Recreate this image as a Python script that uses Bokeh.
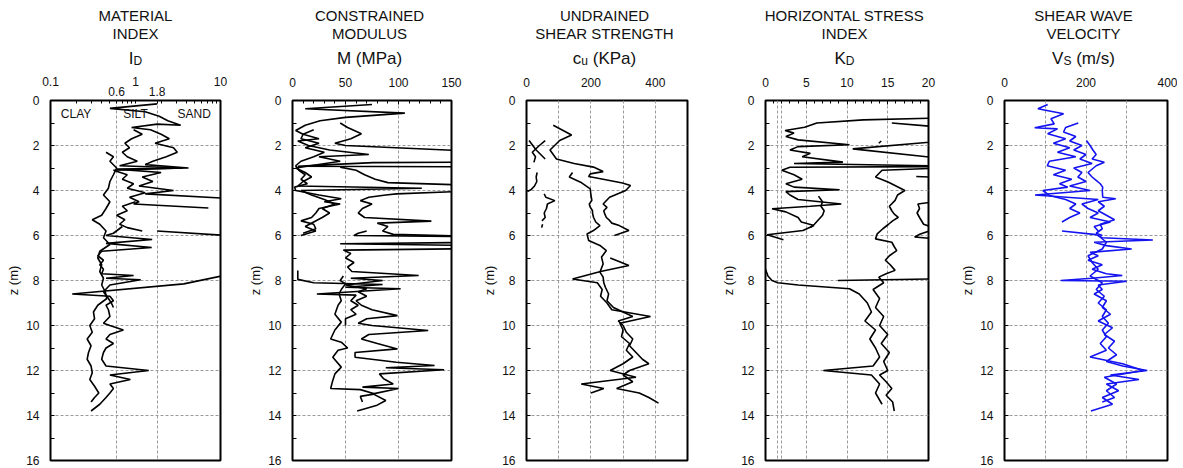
import math
from bokeh.plotting import figure
from bokeh.models import Range1d, FixedTicker, Label, LogAxis, CustomJSTickFormatter
from bokeh.layouts import row, column
from bokeh.embed import file_html
from bokeh.resources import INLINE
from bokeh.core.properties import value

FONT = "Liberation Sans"
TXT = "#111111"
GRID = "#9a9a9a"

# ---------------- DATA ----------------
z_ticks = [0, 2, 4, 6, 8, 10, 12, 14, 16]
z_minor = [1, 3, 5, 7, 9, 11, 13, 15]
z_grid = [2, 4, 6, 8, 10, 12, 14]

titles = [("MATERIAL", "INDEX"), ("CONSTRAINED", "MODULUS"), ("UNDRAINED", "SHEAR STRENGTH"),
          ("HORIZONTAL STRESS", "INDEX"), ("SHEAR WAVE", "VELOCITY")]
symbols = [[("I", False), ("D", True)],
           [("M (MPa)", False)],
           [("c", False), ("u", True), (" (KPa)", False)],
           [("K", False), ("D", True)],
           [("V", False), ("S", True), (" (m/s)", False)]]
soil_labels = ["CLAY", "SILT", "SAND"]
soil_x = [0.2, 1.0, 4.9]
id_extra_ticks = [0.6, 1.8]

# Panel 1: material index ID (log)
id_z1 = [0.15,0.35,0.5,0.7,0.9,1.1,1.05,1.2,1.3,1.5,1.7,1.9,2.1,2.3,2.5,2.7,2.85,3.0,3.05,3.2,3.4,3.6,3.8,4.0,4.15,4.35]
id_v1 = [1.8,0.5,1.3,1.9,2.4,3.4,1.8,0.9,1.5,2.0,2.5,1.7,2.8,3.1,2.3,1.6,1.3,4.2,0.6,2.0,1.2,1.6,1.1,2.8,1.3,12]
id_z2 = [1.3,1.5,1.7,1.9,2.1,2.3,2.5,2.7,2.9,3.0,3.1,3.3,3.5,3.7,3.9,4.1,4.3,4.5,4.6,4.78]
id_v2 = [0.95,1.2,0.9,0.75,0.85,0.7,0.8,1.05,0.65,3.6,0.55,0.8,0.7,0.95,0.8,1.3,0.85,1.1,0.95,7.2]
id_z3 = [2.3,2.5,2.7,3.0,3.3,3.6,3.9,4.2,4.5,4.8,5.1,5.3,5.5,5.8,6.1,6.4,6.7,7.0,7.3,7.6,7.9,8.2,8.5,8.8,9.1,9.4,9.7,10.0,10.3,10.6,10.9,11.2,11.5,11.8,12.1,12.4,12.7,13.0,13.2,13.4]
id_v3 = [0.45,0.55,0.5,0.6,0.55,0.5,0.48,0.42,0.5,0.45,0.4,0.31,0.38,0.45,0.42,0.5,0.38,0.36,0.4,0.38,0.42,0.4,0.44,0.46,0.36,0.32,0.33,0.29,0.31,0.27,0.3,0.28,0.27,0.3,0.31,0.29,0.33,0.37,0.33,0.3]
id_z4 = [4.5,4.7,4.9,5.1,5.3,5.5,5.65,5.8]
id_v4 = [1.0,0.7,0.8,0.6,0.75,0.65,0.8,1.2]
id_z5 = [5.8,6.0,7.75,8.15,8.6,8.7,8.9,9.1,9.3,9.6,9.9,10.0,10.2,10.4,10.6,10.8,11.0,11.2,11.5,11.8,12.0,12.2,12.4,12.6,12.8,13.0,13.2,13.5,13.8]
id_v5 = [1.8,12,12,3.7,0.18,0.5,0.55,0.45,0.48,0.5,0.42,0.5,0.72,0.5,0.45,0.55,0.45,0.42,0.4,0.45,1.43,0.5,0.87,0.5,0.55,0.5,0.45,0.38,0.3]
id_z6 = [5.6,5.9,6.0,6.18,6.35,6.53,6.7,6.9,7.1,7.3,7.5,7.7,7.78,7.9,7.97,8.2,8.5,8.8,9.0,9.2]
id_v6 = [0.7,0.55,0.45,1.57,0.45,1.55,0.4,0.36,0.42,0.38,0.42,0.4,0.95,0.45,1.15,0.5,0.42,0.48,0.52,0.55]

# Panel 2: constrained modulus M (MPa)
m_z1 = [0.18,0.37,0.56,0.75,0.9,1.1,1.33,1.5,1.7,1.9,2.1,2.3,2.5,2.7,2.9,3.1,3.3,3.5,3.7,3.85,4.0,4.2,4.37,4.5,4.6,4.8,5.0,5.2,5.35,5.5,5.7,5.9]
m_v1 = [75,12,106,50,26,12,3,10,8,25,12,30,20,8,3,6,12,8,14,2,3,25,46,30,45,25,22,18,8,20,22,10]
m_z2 = [1.0,1.2,1.48,1.7,1.9,2.0,2.27,2.55,2.74,2.76,2.85,2.92,2.95]
m_v2 = [45,52,65,55,40,50,180,180,180,76,35,5,180]
m_z3 = [2.96,3.1,3.3,3.5,3.65,3.78,3.9,4.0,4.15,4.2,4.3,4.45,4.6,4.8,5.0,5.2,5.36,5.45,5.6,5.8,5.95,6.05]
m_v3 = [45,60,68,78,90,180,180,180,98,88,72,64,75,66,62,68,131,80,90,85,95,180]
m_z4 = [1.3,1.5,1.7,1.8,2.0,2.2,2.4,2.5,2.7,3.0,3.2,3.4,3.6,3.8,3.9,4.0,4.2,4.4,4.6,4.8,5.0,5.2,5.4,5.6,5.8,6.0]
m_v4 = [20,10,25,5,15,35,72,25,45,3,12,18,10,5,122,8,18,30,40,28,35,28,20,12,22,8]
m_z6 = [5.8,5.9,6.0,6.05,6.3,6.37,6.45,6.58,6.65,6.8,7.0,7.2,7.4,7.6,7.78,7.9,8.0,8.2,8.37,8.5,8.7,8.9,9.1,9.3,9.56,9.7,9.9,10.0,10.22,10.4,10.6,10.8,11.04,11.2,11.41,11.63,11.78,11.88,11.97,12.15,12.37,12.6,12.74,12.8,13.04,13.33,13.56,13.8]
m_v6 = [70,62,58,180,180,45,180,180,48,55,50,58,52,56,119,55,85,50,70,62,70,60,65,75,99,70,62,75,128,72,65,80,99,59,59,98,134,88,143,82,86,95,66,100,76,88,79,61]
m_z7 = [7.8,8.0,8.15,8.4,8.6,8.9,9.1,9.5,9.85,10.2,10.6,10.74,11.0,11.1,11.41,11.85,12.15,12.44,12.8,12.85,13.04,13.15,13.4]
m_v7 = [48,45,50,46,44,46,43,40,46,40,36,46,52,43,38,46,40,38,36,64,78,64,66]
m_z8 = [7.55,7.95,8.1,8.18,8.3,8.37,8.6,8.65,8.9,9.1,9.3,9.5,9.7,10.0]
m_v8 = [5,5,20,85,50,102,23,60,55,62,55,60,50,50]

# Panel 3: undrained shear strength cu (kPa)
cu_z1 = [1.1,1.53,1.78,2.2,2.6,2.8,2.96,3.16,3.26,3.38,3.5,3.67,3.78,4.0,4.3,4.6,4.75,4.9,5.04,5.2,5.33,5.45,5.56,5.78,6.0]
cu_v1 = [83,140,103,73,93,148,208,238,198,193,238,298,323,308,258,238,250,240,243,248,258,265,288,318,273]
cu_z2 = [3.2,3.4,3.63,3.93,4.2,4.44,4.6,4.74,4.9,5.0,5.19,5.4,5.56,5.78,5.93,6.22,6.44,6.67,6.96,7.26,7.63,7.85,8.1,8.3,8.6,8.9,9.2,9.4,9.6,9.8,10.0,10.3,10.6,10.9,11.2,11.5,11.7,12.0,12.2,12.5,12.8,13.0,13.2,13.45]
cu_v2 = [143,133,168,198,200,203,195,198,205,205,208,215,228,208,188,193,228,248,233,238,228,238,240,245,255,250,270,300,330,285,300,310,330,320,340,360,380,320,300,330,280,350,380,410]
cu_z3 = [7.0,7.33,7.6,7.93,8.1,8.4,8.7,9.0,9.3,9.6,9.9,10.2,10.5,10.8,11.1,11.4,11.7,12.0,12.3,12.6,12.8,13.0]
cu_v3 = [260,318,230,143,220,235,230,250,265,385,290,300,295,320,310,330,300,260,340,170,240,200]
cu_z4 = [1.78,2.2,2.6]
cu_v4 = [8,30,58]
cu_z5 = [1.78,2.0,2.3,2.5,2.75]
cu_v5 = [58,40,18,28,23]
cu_z6 = [3.2,3.4,3.6,3.8,3.95,4.05]
cu_v6 = [33,30,32,25,15,3]
cu_z7 = [4.15,4.3,4.45,4.6,4.8,5.0,5.2,5.35]
cu_v7 = [55,60,88,65,62,55,58,48]
cu_z8 = [5.5,5.65]
cu_v8 = [50,47]

# Panel 4: horizontal stress index KD
kd_z1 = [0.74,0.86,1.0,1.19,1.33,1.45,1.6,1.75,1.97,2.05,2.2,2.35,2.5,2.74,2.8,2.93,2.97,3.1,3.3,3.5,3.7,3.85,3.97,4.05,4.2,4.4,4.6,4.7,4.81,4.95,5.2,5.4,5.56,5.78,5.97,6.19]
kd_v1 = [25,12,6.3,4.8,2.4,3.5,2.5,4.0,10.3,4.0,3.0,5.5,4.5,9.5,3.5,25,3.0,2.0,3.5,4.5,2.5,3.5,9.1,2.5,3.0,4.0,9.3,5.5,0.8,2.5,4.0,4.4,5.95,4.6,0.2,2.2]
kd_z2 = [1.0,1.2]
kd_v2 = [15.5,22]
kd_z3 = [1.7,2.15,2.7]
kd_v3 = [25,10.7,25]
kd_z3b = [1.8,1.9]
kd_v3b = [14.2,13.9]
kd_z4 = [2.96,3.1,3.4,3.63,4.0,4.2,4.44,4.7,4.9,5.05,5.19,5.35,5.5,5.7,5.93,6.15,6.3,6.5,6.67,6.9,7.1,7.3,7.55,7.7,7.85,8.1,8.4,8.8,9.2,9.6,10.0,10.4,10.8,11.2,11.6,12.0,12.2,12.5,12.8,13.1,13.4,13.8]
kd_v4 = [25,14.3,13.5,15.1,17.1,16.2,15.9,15.2,15.5,15.8,16.3,15.6,15.1,14.4,13.7,13.5,15.5,15.8,16.1,15.2,14.7,15.3,15.9,14.8,13.9,14.5,13.2,14.0,13.5,14.5,14.0,15.0,14.2,15.2,14.5,15.0,14.0,14.8,15.5,14.8,15.6,15.8]
kd_z5 = [4.3,4.6,4.8,5.0,5.2,5.5,5.7,5.93,6.07,6.15]
kd_v5 = [25,18.7,18.9,18.6,18.9,19.4,21,19.0,18.3,21]
kd_z6 = [3.38,3.42]
kd_v6 = [18.5,22]
kd_z7 = [4.25,4.5,4.7,4.9,5.1,5.3,5.5,5.65]
kd_v7 = [6.5,7.0,6.8,7.2,7.0,6.5,6.0,5.5]
kd_z8 = [7.5,7.8,8.0,8.1,8.2,8.37,8.6,9.0,9.4,9.8,10.2,10.6,11.0,11.4,11.8,12.0,12.2,12.6,13.0,13.5]
kd_v8 = [0,0.3,0.8,1.5,4,10.3,11.5,12.5,13.0,12.2,13.5,12.8,13.5,14.0,13.2,7.1,13.0,14.0,13.5,14.3]
kd_z9 = [8.0,7.9]
kd_v9 = [8.9,25]

# Panel 5: shear wave velocity Vs (m/s)
vs_z1 = [0.18,0.37,0.59,0.81,1.04,1.21,1.26,1.48,1.7,1.9,2.1,2.3,2.5,2.7,2.9,3.1,3.3,3.5,3.7,3.85,4.0,4.22,4.4,4.6,4.8,5.0,5.2,5.4]
vs_v1 = [106,82,145,114,122,74,130,106,150,120,160,130,175,110,105,150,120,165,135,155,94,110,150,175,160,185,160,141]
vs_z2 = [1.0,1.2,1.4,1.6,1.8,2.0,2.2,2.4,2.6,2.8,3.0,3.2,3.4,3.6,3.8,4.0,4.2,4.4,4.6,4.8,5.0,5.2,5.4,5.6,5.8]
vs_v2 = [181,150,145,175,160,190,170,200,185,215,170,190,180,200,160,210,75,230,190,205,230,210,260,220,230]
vs_z3 = [1.78,2.0,2.2,2.4,2.6,2.74,2.9,3.2,3.4,3.55,3.7,3.85,4.0,4.3,4.37,4.5,4.7,4.9,5.1,5.3,5.5,5.7,5.9,6.0]
vs_v3 = [201,210,217,225,215,245,225,205,215,225,235,241,240,241,273,230,245,230,250,270,235,240,225,240]
vs_z4 = [5.8,5.96,6.1,6.2,6.3,6.45,6.6,6.75,6.9,7.1,7.3,7.5,7.7,7.78,7.9,8.0,8.03,8.2,8.4,8.6,8.9,9.2,9.5,9.8,10.1,10.4,10.7,11.0,11.3,11.6,11.8,12.0,12.2,12.4,12.6,12.9,13.2,13.5,13.8]
vs_v4 = [141,225,240,364,220,250,312,210,230,205,240,215,250,289,215,138,300,230,240,220,250,240,260,230,265,245,270,255,275,250,290,350,260,330,250,280,240,265,212]
vs_z5 = [6.0,6.3,6.6,6.9,7.2,7.5,7.8,8.1,8.4,8.7,9.0,9.3,9.6,9.9,10.2,10.5,10.8,11.1,11.4,11.7,12.0,12.3,12.6,12.9,13.2,13.4]
vs_v5 = [230,250,240,205,215,230,210,240,225,245,230,250,240,255,240,250,235,250,210,290,340,245,275,250,270,240]

# ---------------- LAYOUT / HELPERS ----------------
CW = {"I": .278, "D": .722, "M": .833, " ": .278, "(": .333, ")": .333, "P": .667, "a": .556,
      "c": .5, "u": .556, "K": .667, "V": .667, "S": .667, "m": .833, "/": .278, "s": .5}


def tw(s, size):
    return sum(CW.get(ch, .6) for ch in s) * size


HEAD_H = 68          # header strip height (titles)
TOP_B = 32           # space above frame for tick labels
FH = 360             # frame height
BOT_B = 8
LB = [50, 42, 42, 42, 42]        # left borders
FW = [170, 164, 166, 168, 168]   # frame widths
RB = [25, 28, 31, 29, 10]        # right borders
FIG_W = [a + b + c for a, b, c in zip(LB, FW, RB)]
TOTAL_W = sum(FIG_W)

starts = []
acc = 0
for w in FIG_W:
    starts.append(acc)
    acc += w
centers = [s + l + f / 2 for s, l, f in zip(starts, LB, FW)]

TITLE_SIZE = 15
SYM_SIZE = 17
SUB_SIZE = 12
BASE_SHIFT = -5.5    # compensates the renderer's baseline placement

# header figure: its data coordinates equal page pixels
head = figure(width=TOTAL_W, height=HEAD_H, x_range=Range1d(0, TOTAL_W), y_range=Range1d(HEAD_H, 0),
              x_axis_type=None, y_axis_type=None, output_backend="svg", toolbar_location=None,
              title=None, min_border=0, min_border_left=0, min_border_right=0,
              min_border_top=0, min_border_bottom=0)
head.outline_line_color = None
head.grid.visible = False
head.background_fill_color = "white"
head.border_fill_color = "white"

t1x, t1y, t1t = [], [], []
for (a, b), cx in zip(titles, centers):
    t1x += [cx, cx]
    t1y += [20.7 + BASE_SHIFT, 38.3 + BASE_SHIFT]
    t1t += [a, b]
head.text(x=t1x, y=t1y, text=t1t, text_font=value(FONT), text_font_size=value(f"{TITLE_SIZE}px"),
          text_color=TXT, text_align="center", text_baseline="alphabetic")

sx, sy, st, bx, by, bt = [], [], [], [], [], []
for parts, cx in zip(symbols, centers):
    total = sum(tw(t, SUB_SIZE if sub else SYM_SIZE) for t, sub in parts)
    x = cx - total / 2
    for t, sub in parts:
        size = SUB_SIZE if sub else SYM_SIZE
        lead = len(t) - len(t.lstrip(" "))
        x += lead * CW[" "] * size
        core = t.lstrip(" ")
        if sub:
            bx.append(x); by.append(66.0 + BASE_SHIFT); bt.append(core)
        else:
            sx.append(x); sy.append(63.3 + BASE_SHIFT); st.append(core)
        x += tw(core, size)
head.text(x=sx, y=sy, text=st, text_font=value(FONT), text_font_size=value(f"{SYM_SIZE}px"),
          text_color=TXT, text_align="left", text_baseline="alphabetic")
head.text(x=bx, y=by, text=bt, text_font=value(FONT), text_font_size=value(f"{SUB_SIZE}px"),
          text_color=TXT, text_align="left", text_baseline="alphabetic")


def style_xaxis(xa, standoff):
    xa.axis_line_color = None
    xa.major_tick_in = 4
    xa.major_tick_out = 0
    xa.minor_tick_in = 3
    xa.minor_tick_out = 0
    xa.major_tick_line_color = "black"
    xa.minor_tick_line_color = "black"
    xa.major_label_text_font = FONT
    xa.major_label_text_font_size = "12px"
    xa.major_label_text_color = TXT
    xa.major_label_standoff = standoff


def make_fig(i, xr, xtype, xticks, xminor, xgrid):
    p = figure(width=FIG_W[i], height=TOP_B + FH + BOT_B, x_range=xr, y_range=Range1d(16, 0),
               x_axis_type=xtype, x_axis_location="above", title=None,
               output_backend="svg", toolbar_location=None,
               min_border_left=LB[i], min_border_right=RB[i],
               min_border_top=TOP_B, min_border_bottom=BOT_B)
    p.background_fill_color = "white"
    p.border_fill_color = "white"
    p.outline_line_color = "black"
    p.outline_line_width = 2
    xa = p.xaxis[0]
    xa.ticker = FixedTicker(ticks=xticks, minor_ticks=xminor)
    style_xaxis(xa, 14)
    ya = p.yaxis[0]
    ya.ticker = FixedTicker(ticks=z_ticks, minor_ticks=z_minor)
    ya.axis_line_color = None
    ya.major_tick_in = 4
    ya.major_tick_out = 0
    ya.minor_tick_in = 4
    ya.minor_tick_out = 0
    ya.major_label_text_font = FONT
    ya.major_label_text_font_size = "12px"
    ya.major_label_text_color = TXT
    ya.major_label_standoff = 11
    ya.axis_label = "z (m)"
    ya.axis_label_text_font = FONT
    ya.axis_label_text_font_size = "13px"
    ya.axis_label_text_font_style = "normal"
    ya.axis_label_text_color = TXT
    ya.axis_label_standoff = 2
    p.xgrid.ticker = FixedTicker(ticks=xgrid)
    p.ygrid.ticker = FixedTicker(ticks=z_grid)
    for g in (p.xgrid, p.ygrid):
        g.grid_line_color = GRID
        g.grid_line_dash = "3 2"
        g.grid_line_width = 1
    return p


def lines(p, pairs, color="black"):
    for v, z in pairs:
        p.line(x=v, y=z, line_color=color, line_width=1.6)


fmt = CustomJSTickFormatter(code="return String(tick);")

# Panel 1 (log scale). Inner axis carries tick marks + 0.6 / 1.8 labels, outer axis the decade labels.
p1 = make_fig(0, Range1d(0.1, 10), "log", id_extra_ticks,
              [0.1, 0.2, 0.3, 0.4, 0.5, 0.7, 0.8, 0.9, 1, 2, 3, 4, 5, 6, 7, 8, 9, 10], [0.6, 1.8])
p1.xaxis[0].formatter = fmt
p1.xaxis[0].major_tick_in = 3
p1.xaxis[0].major_label_standoff = 5
outer = LogAxis(ticker=FixedTicker(ticks=[0.1, 1, 10]), formatter=fmt)
style_xaxis(outer, -2)
outer.major_tick_in = 0
outer.minor_tick_in = 0
p1.add_layout(outer, "above")
for t, xv in zip(soil_labels, soil_x):
    p1.add_layout(Label(x=xv, y=FH - 13, x_units="data", y_units="screen", text=t,
                        text_font=FONT, text_font_size="12px", text_color=TXT,
                        text_align="center", text_baseline="middle"))
lines(p1, [(id_v1, id_z1), (id_v2, id_z2), (id_v3, id_z3), (id_v4, id_z4), (id_v5, id_z5), (id_v6, id_z6)])

p2 = make_fig(1, Range1d(0, 150), "linear", [0, 50, 100, 150],
              [10, 20, 30, 40, 60, 70, 80, 90, 110, 120, 130, 140], [50, 100])
lines(p2, [(m_v1, m_z1), (m_v2, m_z2), (m_v3, m_z3), (m_v4, m_z4), (m_v6, m_z6), (m_v7, m_z7), (m_v8, m_z8)])

p3 = make_fig(2, Range1d(0, 500), "linear", [0, 200, 400], [], [100, 200, 300, 400])
p3.xaxis[0].major_tick_in = 0
lines(p3, [(cu_v1, cu_z1), (cu_v2, cu_z2), (cu_v3, cu_z3), (cu_v4, cu_z4), (cu_v5, cu_z5),
           (cu_v6, cu_z6), (cu_v7, cu_z7), (cu_v8, cu_z8)])

p4 = make_fig(3, Range1d(0, 20), "linear", [0, 5, 10, 15, 20],
              [1, 2, 3, 4, 6, 7, 8, 9, 11, 12, 13, 14, 16, 17, 18, 19], [1.5, 2, 5, 10, 15])
lines(p4, [(kd_v1, kd_z1), (kd_v2, kd_z2), (kd_v3, kd_z3), (kd_v3b, kd_z3b), (kd_v4, kd_z4),
           (kd_v5, kd_z5), (kd_v6, kd_z6), (kd_v7, kd_z7), (kd_v8, kd_z8), (kd_v9, kd_z9)])

p5 = make_fig(4, Range1d(0, 400), "linear", [0, 200, 400], [], [100, 200, 300])
p5.xaxis[0].major_tick_in = 0
lines(p5, [(vs_v1, vs_z1), (vs_v2, vs_z2), (vs_v3, vs_z3), (vs_v4, vs_z4), (vs_v5, vs_z5)], color="#1414f0")

layout = column(head, row(p1, p2, p3, p4, p5, spacing=0), spacing=0)
open("out.html", "w").write(file_html(layout, INLINE))
